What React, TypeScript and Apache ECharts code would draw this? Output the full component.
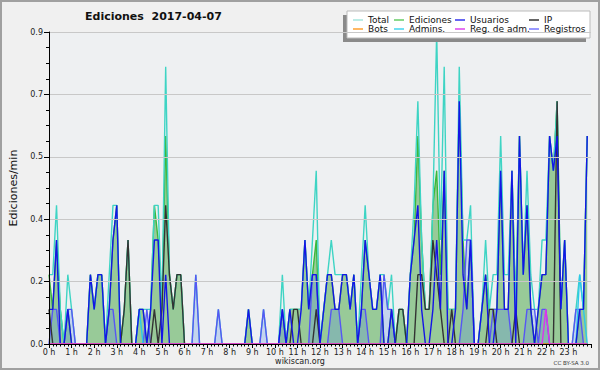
import React, { useEffect, useRef } from "react";
import * as echarts from "echarts";

const FONT = '"DejaVu Sans", sans-serif';

// 10-minute slots over the day (144 slots), x value in hours
const slotCount = 144;
const times = Array.from({ length: slotCount }, (_, i) => i / 6);

// Values (edits per minute)
const total = [
  0.2, 0.2, 0.4, 0.1, 0, 0.2, 0.1, 0, 0, 0, 0, 0.2,
  0.1, 0.2, 0.2, 0, 0.2, 0.4, 0.4, 0, 0.1, 0.3, 0, 0,
  0.1, 0.1, 0.1, 0.1, 0.4, 0.4, 0.1, 0.8, 0.2, 0.1, 0.2, 0.2,
  0, 0, 0, 0.2, 0, 0, 0, 0, 0, 0.1, 0, 0,
  0, 0, 0, 0, 0, 0.1, 0, 0, 0, 0.1, 0, 0,
  0, 0, 0.2, 0, 0.1, 0.1, 0.1, 0.1, 0.3, 0.1, 0.3, 0.5,
  0, 0.1, 0.2, 0.3, 0.2, 0.2, 0.2, 0.2, 0.1, 0.2, 0, 0.2,
  0.4, 0.2, 0.1, 0.1, 0.2, 0.2, 0.1, 0.2, 0, 0.1, 0.1, 0,
  0.2, 0.4, 0.7, 0.3, 0.1, 0.1, 0.4, 0.9, 0.3, 0.8, 0.1, 0.1,
  0.1, 0.8, 0.3, 0.3, 0.4, 0, 0, 0.1, 0.3, 0.1, 0.2, 0.2,
  0.6, 0.2, 0.2, 0.5, 0.1, 0.6, 0.2, 0.5, 0.2, 0.1, 0.1, 0.3,
  0.3, 0.6, 0.5, 0.7, 0.1, 0.3, 0, 0, 0.1, 0.2, 0.1, 0.6,
];

const edits = [
  0.2, 0.1, 0.3, 0.1, 0, 0.1, 0, 0, 0, 0, 0, 0.2,
  0.1, 0.2, 0.2, 0, 0.1, 0.3, 0.4, 0, 0.1, 0.3, 0, 0,
  0.1, 0.1, 0, 0.1, 0.4, 0.3, 0.1, 0.6, 0.2, 0.1, 0.2, 0.2,
  0, 0, 0, 0, 0, 0, 0, 0, 0, 0, 0, 0,
  0, 0, 0, 0, 0, 0.1, 0, 0, 0, 0, 0, 0,
  0, 0, 0.1, 0, 0.1, 0.1, 0.1, 0.1, 0.3, 0.1, 0.2, 0.3,
  0, 0.1, 0.2, 0.2, 0.1, 0.1, 0.2, 0.2, 0.1, 0.2, 0, 0.1,
  0.3, 0.2, 0.1, 0.1, 0.2, 0, 0, 0.1, 0, 0.1, 0.1, 0,
  0.2, 0.3, 0.6, 0.3, 0.1, 0.1, 0.4, 0.5, 0.2, 0.5, 0.1, 0.1,
  0.1, 0.7, 0.3, 0.1, 0.3, 0, 0, 0.1, 0.2, 0.1, 0.1, 0.1,
  0.5, 0.1, 0.1, 0.5, 0.1, 0.6, 0.2, 0.4, 0.1, 0, 0.1, 0.2,
  0.2, 0.6, 0.5, 0.7, 0.1, 0.3, 0, 0, 0, 0.1, 0.1, 0.6,
];

const users = [
  0.1, 0.1, 0.3, 0, 0, 0.1, 0, 0, 0, 0, 0, 0.2,
  0.1, 0.2, 0.2, 0, 0.1, 0.3, 0.4, 0, 0, 0, 0, 0,
  0.1, 0.1, 0, 0.1, 0.3, 0.3, 0, 0.2, 0, 0, 0, 0,
  0, 0, 0, 0, 0, 0, 0, 0, 0, 0, 0, 0,
  0, 0, 0, 0, 0, 0.1, 0, 0, 0, 0, 0, 0,
  0, 0, 0.1, 0, 0.1, 0, 0, 0.1, 0.3, 0.1, 0.2, 0.2,
  0, 0.1, 0.2, 0.2, 0.1, 0.1, 0.2, 0.2, 0.1, 0.2, 0, 0.1,
  0.3, 0.2, 0.1, 0.1, 0.2, 0, 0, 0.1, 0, 0, 0, 0,
  0.2, 0.3, 0.4, 0.1, 0, 0, 0.1, 0.3, 0.1, 0.5, 0, 0,
  0.1, 0.7, 0.2, 0.1, 0.3, 0, 0, 0.1, 0.2, 0, 0, 0.1,
  0.5, 0.1, 0.1, 0.5, 0, 0.6, 0.2, 0.4, 0.1, 0, 0.1, 0.2,
  0.2, 0.6, 0.5, 0.6, 0.1, 0.3, 0, 0, 0, 0.1, 0.1, 0.6,
];

const ip = [
  0.1, 0, 0, 0, 0, 0, 0, 0, 0, 0, 0, 0,
  0, 0, 0, 0, 0, 0, 0, 0, 0.1, 0.3, 0, 0,
  0, 0, 0, 0, 0.1, 0, 0.1, 0.4, 0.2, 0.1, 0.2, 0.2,
  0, 0, 0, 0, 0, 0, 0, 0, 0, 0, 0, 0,
  0, 0, 0, 0, 0, 0, 0, 0, 0, 0, 0, 0,
  0, 0, 0, 0, 0, 0.1, 0.1, 0, 0, 0, 0, 0.1,
  0, 0, 0, 0, 0, 0, 0, 0, 0, 0, 0, 0,
  0, 0, 0, 0, 0, 0, 0, 0, 0, 0.1, 0.1, 0,
  0, 0, 0.2, 0.2, 0.1, 0.1, 0.3, 0.2, 0.1, 0, 0, 0.1,
  0, 0, 0, 0, 0, 0, 0, 0, 0, 0.1, 0.1, 0,
  0, 0, 0, 0, 0.1, 0, 0, 0, 0, 0, 0, 0,
  0, 0, 0, 0.7, 0, 0, 0, 0, 0, 0, 0, 0,
];

const logs = [
  0, 0.1, 0.1, 0, 0, 0.1, 0.1, 0, 0, 0, 0, 0,
  0, 0, 0, 0, 0.1, 0.1, 0, 0, 0, 0, 0, 0,
  0, 0, 0.1, 0, 0, 0, 0, 0, 0, 0, 0, 0,
  0, 0, 0, 0.2, 0, 0, 0, 0, 0, 0.1, 0, 0,
  0, 0, 0, 0, 0, 0, 0, 0, 0, 0.1, 0, 0,
  0, 0, 0.1, 0, 0, 0, 0, 0, 0, 0, 0.2, 0.2,
  0, 0, 0, 0.1, 0.1, 0.1, 0, 0, 0, 0, 0, 0.1,
  0.1, 0, 0, 0, 0, 0.2, 0.1, 0.1, 0, 0, 0, 0,
  0, 0, 0, 0, 0, 0, 0, 0, 0, 0, 0, 0,
  0, 0, 0.1, 0.3, 0.3, 0, 0, 0, 0, 0, 0.1, 0.1,
  0.1, 0.1, 0.1, 0, 0, 0, 0, 0.1, 0.1, 0.1, 0, 0.1,
  0.1, 0, 0, 0, 0, 0, 0, 0, 0.1, 0.1, 0, 0,
];

const admins = [
  0, 0, 0, 0, 0, 0, 0, 0, 0, 0, 0, 0,
  0, 0, 0, 0, 0, 0, 0, 0, 0, 0, 0, 0,
  0.1, 0, 0, 0, 0, 0, 0, 0, 0, 0, 0, 0,
  0, 0, 0, 0, 0, 0, 0, 0, 0, 0, 0, 0,
  0, 0, 0, 0, 0, 0, 0, 0, 0, 0, 0, 0,
  0, 0, 0, 0, 0, 0, 0, 0, 0, 0, 0, 0,
  0, 0, 0, 0, 0, 0, 0, 0, 0, 0, 0, 0,
  0, 0, 0, 0, 0, 0, 0, 0, 0, 0, 0, 0,
  0, 0, 0, 0, 0, 0, 0, 0, 0, 0, 0, 0,
  0, 0, 0, 0, 0, 0, 0, 0, 0, 0, 0, 0,
  0, 0, 0, 0, 0, 0, 0, 0, 0, 0, 0, 0,
  0, 0, 0, 0, 0, 0, 0, 0, 0, 0.2, 0.1, 0,
];

const adminLogs = [
  0, 0, 0, 0, 0, 0, 0, 0, 0, 0, 0, 0,
  0, 0, 0, 0, 0, 0, 0, 0, 0, 0, 0, 0,
  0, 0, 0, 0, 0, 0, 0, 0, 0, 0, 0, 0,
  0, 0, 0, 0, 0, 0, 0, 0, 0, 0, 0, 0,
  0, 0, 0, 0, 0, 0, 0, 0, 0, 0, 0, 0,
  0, 0, 0, 0, 0, 0, 0, 0, 0, 0, 0, 0,
  0, 0, 0, 0, 0, 0, 0, 0, 0, 0, 0, 0,
  0, 0, 0, 0, 0, 0, 0, 0, 0, 0, 0, 0,
  0, 0, 0, 0, 0, 0, 0, 0, 0, 0, 0, 0,
  0, 0, 0, 0, 0, 0, 0, 0, 0, 0, 0, 0,
  0, 0, 0, 0, 0, 0, 0, 0, 0, 0, 0, 0,
  0.1, 0, 0, 0, 0, 0, 0, 0, 0, 0, 0, 0,
];

const bots = [
  0, 0, 0, 0, 0, 0, 0, 0, 0, 0, 0, 0,
  0, 0, 0, 0, 0, 0, 0, 0, 0, 0, 0, 0,
  0, 0, 0, 0, 0, 0, 0, 0, 0, 0, 0, 0,
  0, 0, 0, 0, 0, 0, 0, 0, 0, 0, 0, 0,
  0, 0, 0, 0, 0, 0, 0, 0, 0, 0, 0, 0,
  0, 0, 0, 0, 0, 0, 0, 0, 0, 0, 0, 0,
  0, 0, 0, 0, 0, 0, 0, 0, 0, 0, 0, 0,
  0, 0, 0, 0, 0, 0, 0, 0, 0, 0, 0, 0,
  0, 0, 0, 0, 0, 0, 0, 0, 0, 0, 0, 0,
  0, 0, 0, 0, 0, 0, 0, 0, 0, 0, 0, 0,
  0, 0, 0, 0, 0, 0, 0, 0, 0, 0, 0, 0,
  0, 0, 0, 0, 0, 0, 0, 0, 0, 0, 0, 0,
];

const legendColumns = [
  ["Total", "Bots"],
  ["Ediciones", "Admins."],
  ["Usuarios", "Reg. de adm."],
  ["IP", "Registros"],
];
const legendLefts = [353, 394, 455, 529];

const COLORS: Record<string, string> = {
  Total: "#3ed4c4",
  Ediciones: "#3cb83c",
  Usuarios: "#1414e6",
  IP: "#333333",
  Bots: "#ff9a22",
  "Admins.": "#2cc8ea",
  "Reg. de adm.": "#dd33ee",
  Registros: "#5656f4",
};
const LEGEND_COLORS: Record<string, string> = {
  Total: "#a6e6de",
  Ediciones: "#66cc66",
  Usuarios: "#3333ee",
  IP: "#333333",
  Bots: "#ffa030",
  "Admins.": "#44d4ee",
  "Reg. de adm.": "#dd44ee",
  Registros: "#7777ff",
};

const pairs = (vals: number[]) => vals.map((v, i) => [times[i], v]);

function lineSeries(name: string, vals: number[], extra: any = {}) {
  return {
    type: "line",
    name,
    data: pairs(vals),
    showSymbol: false,
    symbol: "none",
    color: COLORS[name],
    lineStyle: { color: COLORS[name], width: 1.4 },
    itemStyle: { color: COLORS[name] },
    ...extra,
  };
}

export default function App() {
  const ref = useRef<HTMLDivElement>(null);

  useEffect(() => {
    document.body.style.margin = "0";
    const chart = echarts.init(ref.current!, null, { renderer: "svg" });

    const legends = legendColumns.map((col, k) => ({
      orient: "vertical",
      left: legendLefts[k],
      top: 15.5,
      padding: 0,
      itemGap: 0,
      itemWidth: 10,
      itemHeight: 1.5,
      icon: "rect",
      selectedMode: false,
      z: 20,
      data: col.map((n) => ({ name: n, itemStyle: { color: LEGEND_COLORS[n] } })),
      textStyle: { fontSize: 9, fontFamily: FONT, color: "#111", lineHeight: 9 },
    }));

    const option: any = {
      animation: false,
      backgroundColor: "#f0f0f0",
      title: {
        text: "Ediciones  2017-04-07",
        left: 85,
        top: 11,
        padding: 0,
        textStyle: { fontSize: 11, fontWeight: "bold", fontFamily: FONT, color: "#111" },
      },
      legend: legends,
      grid: {
        left: 46,
        right: 9,
        top: 32,
        bottom: 26,
        show: true,
        backgroundColor: "#eef0f2",
        borderWidth: 0,
      },
      xAxis: {
        type: "value",
        min: 0,
        max: 24,
        interval: 1,
        z: 10,
        axisLine: { show: true, onZero: false, lineStyle: { color: "#000", width: 1 } },
        axisTick: { show: true, length: 4, lineStyle: { color: "#000" } },
        minorTick: { show: true, splitNumber: 6, length: 2.5, lineStyle: { color: "#000" } },
        splitLine: { show: false },
        axisLabel: {
          fontSize: 8,
          fontFamily: FONT,
          color: "#222",
          margin: 4,
          showMaxLabel: false,
          formatter: (v: number) => (v < 24 ? `${v} h` : ""),
        },
      },
      yAxis: {
        type: "value",
        min: 0,
        max: 0.9,
        interval: 0.18,
        z: 10,
        name: "Ediciones/min",
        nameLocation: "middle",
        nameGap: 30,
        nameTextStyle: { fontSize: 11, fontFamily: FONT, color: "#111" },
        axisLine: { show: true, lineStyle: { color: "#000", width: 1 } },
        axisTick: { show: true, length: 5, lineStyle: { color: "#000" } },
        minorTick: { show: true, splitNumber: 4, length: 3, lineStyle: { color: "#000" } },
        splitLine: { show: true, lineStyle: { color: "#c8c8c8", width: 1 } },
        axisLabel: {
          fontSize: 8,
          fontFamily: FONT,
          color: "#222",
          margin: 6,
          formatter: (v: number) => v.toFixed(1),
        },
      },
      series: [
        lineSeries("Ediciones", edits, {
          areaStyle: { color: "#98ca98", opacity: 1 },
        }),
        lineSeries("Total", total),
        lineSeries("Registros", logs, {
          areaStyle: { color: "rgba(90,140,230,0.28)", opacity: 1 },
        }),
        lineSeries("Admins.", admins),
        lineSeries("IP", ip),
        lineSeries("Usuarios", users),
        lineSeries("Bots", bots),
        lineSeries("Reg. de adm.", adminLogs),
      ],
      graphic: [
        {
          type: "rect",
          z: 5,
          silent: true,
          shape: { x: 343, y: 15, width: 243, height: 27 },
          style: { fill: "#8a8a8a" },
        },
        {
          type: "rect",
          z: 6,
          silent: true,
          shape: { x: 347, y: 11, width: 243, height: 27 },
          style: { fill: "#ffffff", stroke: "#bbbbbb", lineWidth: 1 },
        },
        {
          type: "text",
          z: 6,
          silent: true,
          x: 300,
          y: 361,
          style: {
            text: "wikiscan.org",
            fontSize: 8,
            fontFamily: FONT,
            fill: "#222",
            textAlign: "center",
            textVerticalAlign: "middle",
          },
        },
        {
          type: "text",
          z: 6,
          silent: true,
          x: 589,
          y: 363,
          style: {
            text: "CC BY-SA 3.0",
            fontSize: 5.5,
            fontFamily: FONT,
            fill: "#333",
            textAlign: "right",
            textVerticalAlign: "middle",
          },
        },
        {
          type: "rect",
          z: 100,
          silent: true,
          shape: { x: 1, y: 1, width: 598, height: 368 },
          style: { fill: "none", stroke: "#a0a0a0", lineWidth: 2 },
        },
      ],
    };

    chart.setOption(option);
    return () => chart.dispose();
  }, []);

  return <div ref={ref} style={{ width: 600, height: 370 }} />;
}
